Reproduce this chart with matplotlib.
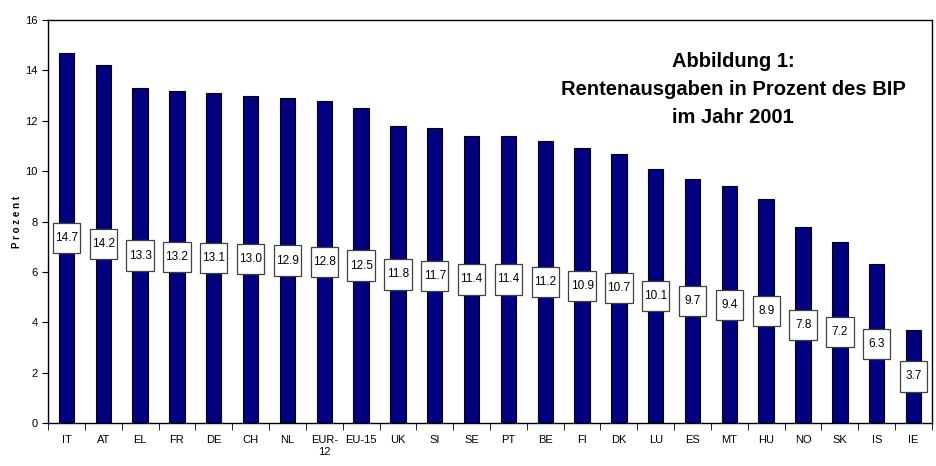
import matplotlib
matplotlib.use("Agg")
import matplotlib.pyplot as plt
from matplotlib.patches import Rectangle
import numpy as np

countries = ["IT", "AT", "EL", "FR", "DE", "CH", "NL", "EUR-\n12", "EU-15", "UK",
             "SI", "SE", "PT", "BE", "FI", "DK", "LU", "ES", "MT", "HU",
             "NO", "SK", "IS", "IE"]
values = [14.7, 14.2, 13.3, 13.2, 13.1, 13.0, 12.9, 12.8, 12.5, 11.8,
          11.7, 11.4, 11.4, 11.2, 10.9, 10.7, 10.1, 9.7, 9.4, 8.9,
          7.8, 7.2, 6.3, 3.7]
y_ticks = [0, 2, 4, 6, 8, 10, 12, 14, 16]

plt.rcParams["font.family"] = ["Liberation Sans", "DejaVu Sans"]

fig = plt.figure(figsize=(9.36, 4.66), dpi=100)
ax = fig.add_axes([0.0513, 0.0923, 0.9444, 0.8647])

x = np.arange(len(countries))
ax.bar(x, values, width=0.42, color="#000080", edgecolor="black", linewidth=0.8, zorder=2)

# value boxes sit halfway up each bar
box_w, box_h = 0.74, 1.2
for xi, v in zip(x, values):
    ax.add_patch(Rectangle((xi - box_w / 2, v / 2 - box_h / 2), box_w, box_h,
                           facecolor="white", edgecolor="#404040", linewidth=0.9, zorder=3))
    ax.text(xi, v / 2, f"{v:.1f}", ha="center", va="center", fontsize=8.5, zorder=4)

ax.set_xlim(-0.5, len(countries) - 0.5)
ax.set_ylim(0, 16)
ax.set_yticks(y_ticks)
ax.tick_params(axis="y", labelsize=8, length=4, direction="out")

# category labels centred, ticks on the category boundaries
ax.set_xticks(x)
ax.set_xticklabels(countries, fontsize=8)
ax.tick_params(axis="x", which="major", length=0, pad=9)
ax.set_xticks(np.arange(-0.5, len(countries)), minor=True)
ax.tick_params(axis="x", which="minor", length=5, direction="out")

for s in ax.spines.values():
    s.set_linewidth(1.0)

ax.set_ylabel("P r o z e n t", fontsize=7, fontweight="bold", labelpad=2)

ax.text(0.775, 0.828, "Abbildung 1:\nRentenausgaben in Prozent des BIP\nim Jahr 2001",
        transform=ax.transAxes, ha="center", va="center", fontsize=14.5,
        fontweight="bold", linespacing=1.6)

fig.savefig("out.png", dpi=100)
